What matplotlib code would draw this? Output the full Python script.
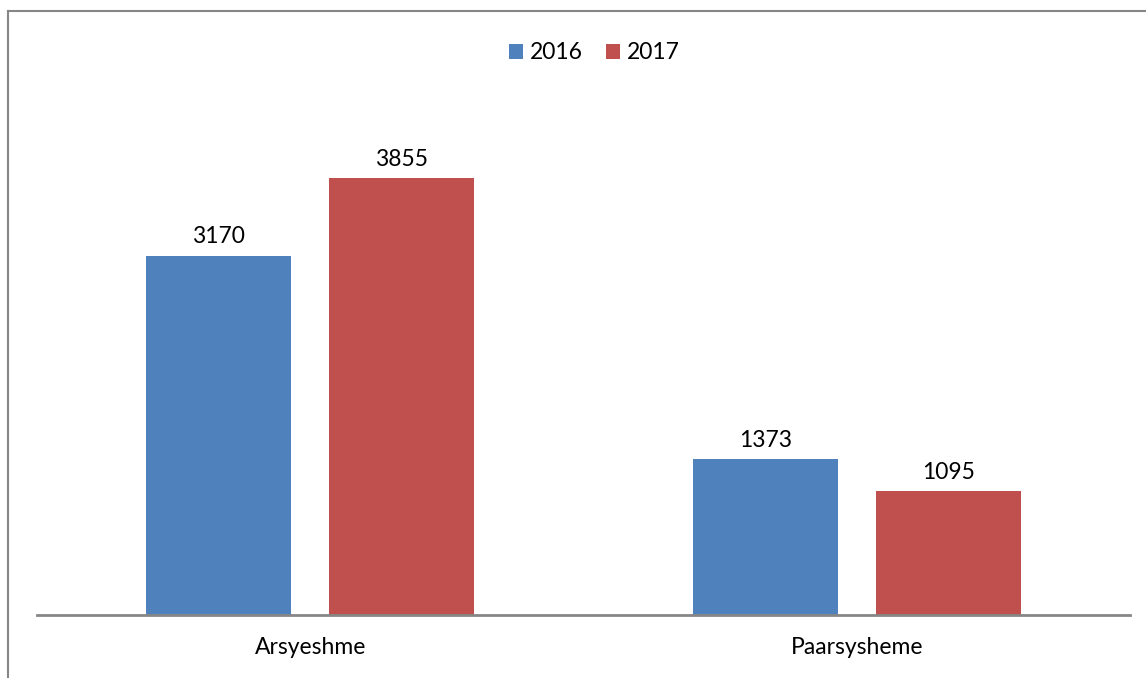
import matplotlib.pyplot as plt
import numpy as np
from matplotlib.lines import Line2D

# Data
categories = ['Arsyeshme', 'Paarsysheme']
years = ['2016', '2017']
values_2016 = [3170, 1373]
values_2017 = [3855, 1095]
colors = ['#4F81BD', '#C0504D']

plt.rcParams['font.family'] = ['Lato', 'DejaVu Sans']
FS = 16.5

fig = plt.figure(figsize=(11.46, 6.78), dpi=100)
ax = fig.add_axes([37 / 1146, 63 / 678, 1093 / 1146, 510 / 678])

x = np.arange(len(categories))
width = 0.265
offset = 0.1675

for vals, off, col, lab in [(values_2016, -offset, colors[0], years[0]),
                            (values_2017, offset, colors[1], years[1])]:
    bars = ax.bar(x + off, vals, width, color=col, label=lab)
    for b, v in zip(bars, vals):
        ax.annotate(str(v), (b.get_x() + b.get_width() / 2, v),
                    xytext=(0, 6), textcoords='offset points',
                    ha='center', va='bottom', fontsize=FS)

ax.set_xlim(-0.5, 1.5)
ax.set_ylim(0, 4500)
ax.set_yticks([])
ax.set_xticks(x)
ax.set_xticklabels(categories, fontsize=FS)
ax.tick_params(axis='x', length=0, pad=16)
for s in ['top', 'right', 'left']:
    ax.spines[s].set_visible(False)
ax.spines['bottom'].set_color('#868686')
ax.spines['bottom'].set_linewidth(2)

leg = ax.legend(loc='center', bbox_to_anchor=(0.51, 1.102), ncol=2,
                frameon=False, fontsize=FS, handlelength=0.6, handleheight=0.6,
                handletextpad=0.3, columnspacing=1.0)

# outer border (left and top only visible)
fig.add_artist(Line2D([8 / 1146, 8 / 1146], [0, 1 - 11 / 678], color='#868686', lw=1.5))
fig.add_artist(Line2D([8 / 1146, 1], [1 - 11 / 678, 1 - 11 / 678], color='#868686', lw=1.5))

fig.savefig('out.png', dpi=100)
